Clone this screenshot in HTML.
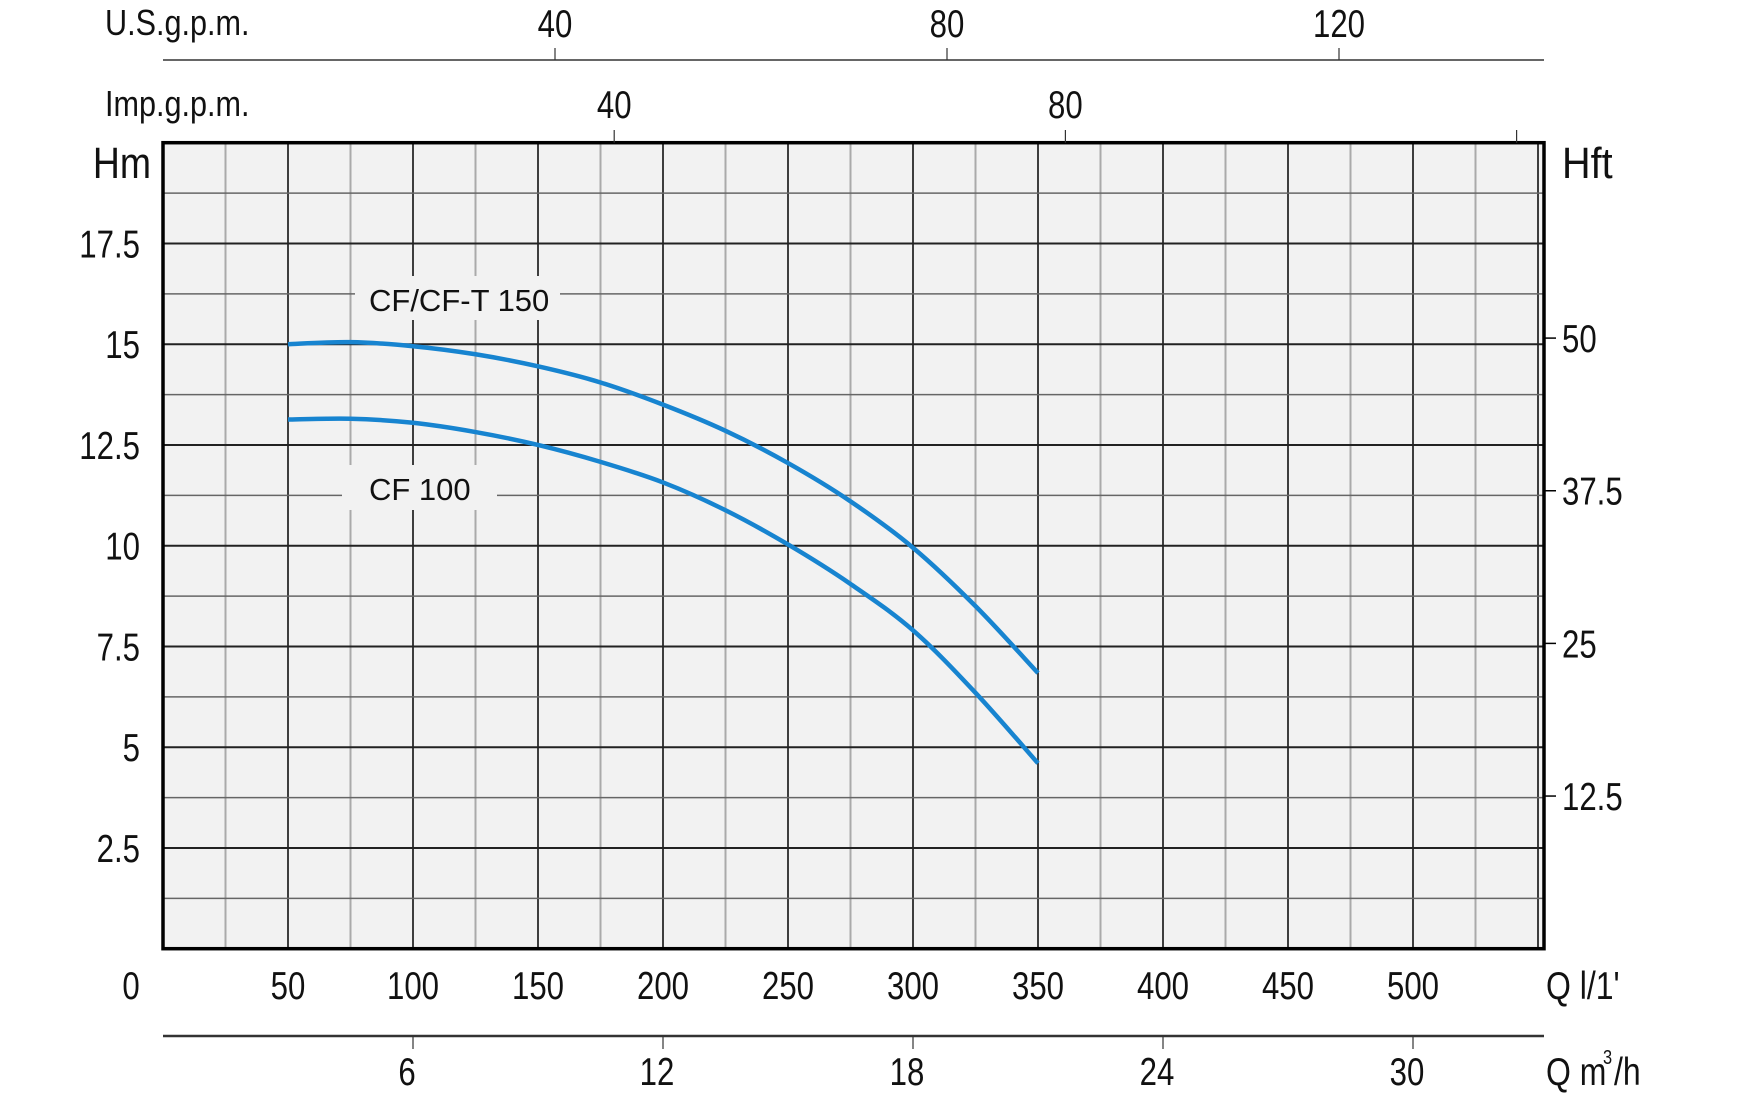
<!DOCTYPE html>
<html><head><meta charset="utf-8"><style>
html,body{margin:0;padding:0;background:#fff;}
svg{display:block;}
text{font-family:"Liberation Sans",sans-serif;fill:#111;}
</style></head><body>
<svg id="chart" width="1750" height="1100" viewBox="0 0 1750 1100" xmlns="http://www.w3.org/2000/svg">
<g id="grid"></g>
<g id="axes"></g>
<g id="series"></g>
</svg>
<script>
const flowQ = [50, 75, 100, 125, 150, 175, 200, 225, 250, 275, 300, 325, 350];
const headCF150 = [15.0, 15.05, 14.95, 14.75, 14.45, 14.05, 13.5, 12.85, 12.05, 11.1, 9.95, 8.5, 6.84];
const headCF100 = [13.13, 13.15, 13.05, 12.82, 12.5, 12.08, 11.57, 10.88, 10.03, 9.05, 7.9, 6.35, 4.6];
const hmTicks = [2.5, 5, 7.5, 10, 12.5, 15, 17.5];
const hmTickLabels = ["2.5", "5", "7.5", "10", "12.5", "15", "17.5"];
const hftTicks = [12.5, 25, 37.5, 50];
const hftTickLabels = ["12.5", "25", "37.5", "50"];
const qTicks = [50, 100, 150, 200, 250, 300, 350, 400, 450, 500];
const m3Ticks = [6, 12, 18, 24, 30];
const usTicks = [40, 80, 120];
const impTicks = [40, 80, 120];
const impTickLabels = ["40", "80", ""];

const NS = "http://www.w3.org/2000/svg";
const X0 = 163, XR = 1544, YB = 948.7, YT = 142.7;
const xQ = q => X0 + q * 2.5;
const yM = m => YB - m * 40.3;
const yFt = f => yM(f / 3.3);
const xUS = g => 163 + g * 9.8;
const xImp = g => 163 + g * 11.28;
const xM3 = v => xQ(v * 1000 / 60);

function mk(tag, attrs, parent) {
  const e = document.createElementNS(NS, tag);
  for (const k in attrs) e.setAttribute(k, attrs[k]);
  parent.appendChild(e);
  return e;
}
const grid = document.getElementById('grid');
const axes = document.getElementById('axes');
const series = document.getElementById('series');

const bg = mk('rect', {x: X0, y: YT, width: XR - X0, height: YB - YT, fill: '#f2f2f2'}, grid);



for (let q = 25; q < 552; q += 25) {
  const major = q % 50 === 0;
  const l = mk('line', {x1: xQ(q), x2: xQ(q), y1: YT, y2: YB, stroke: major ? '#111' : '#aaa', 'stroke-width': major ? 1.6 : 2}, grid);
  
  
}
for (let m = 1.25; m < 20; m += 1.25) {
  const major = Math.abs(m / 2.5 - Math.round(m / 2.5)) < 1e-6;
  const l = mk('line', {x1: X0, x2: XR, y1: yM(m), y2: yM(m), stroke: major ? '#222' : '#666', 'stroke-width': major ? 2 : 1.5}, grid);
  
  
}

function seriesLabel(txt, x, base, bx, by, bw, bh, name) {
  const r = mk('rect', {x: bx, y: by, width: bw, height: bh, fill: '#f2f2f2'}, grid);
  
  
  const t = mk('text', {x: x, y: base, 'font-size': 31}, grid);
  t.textContent = txt;
  
  
}
seriesLabel('CF/CF-T 150', 369, 311, 355, 276, 205, 44, 'label-cf150');
seriesLabel('CF 100', 369, 500, 342, 465, 155, 45, 'label-cf100');

const border = mk('rect', {x: X0, y: YT, width: XR - X0, height: YB - YT, fill: 'none', stroke: '#000', 'stroke-width': 3.5}, axes);



function label(txt, x, y, anchor, size, sx, name) {
  const t = mk('text', {x: 0, y: 0, 'font-size': size, 'text-anchor': anchor, transform: `translate(${x},${y}) scale(${sx},1)`}, axes);
  t.textContent = txt;
  
  
  return t;
}

label('Hm', 151, 178, 'end', 44, 0.85, 'y-axis-title-hm');
hmTicks.forEach((v, i) => label(hmTickLabels[i], 140, yM(v) + 14, 'end', 39, 0.8, 'hm-tick-label'));

label('Hft', 1562, 178, 'start', 44, 0.9, 'y-axis-title-hft');
hftTicks.forEach((v, i) => {
  const l = mk('line', {x1: XR, x2: XR + 12, y1: yFt(v), y2: yFt(v), stroke: '#000', 'stroke-width': 1.5}, axes);
  
  
  label(hftTickLabels[i], 1562, yFt(v) + 14, 'start', 39, 0.8, 'hft-tick-label');
});

label('0', 131, 999, 'middle', 39, 0.8, 'q-tick-label');
qTicks.forEach(v => label(String(v), xQ(v), 999, 'middle', 39, 0.8, 'q-tick-label'));
label("Q l/1'", 1546, 999, 'start', 39, 0.82, 'x-axis-title-lmin');

const m3Line = mk('line', {x1: X0, x2: XR, y1: 1036, y2: 1036, stroke: '#333', 'stroke-width': 2.5}, axes);


m3Ticks.forEach(v => {
  const l = mk('line', {x1: xM3(v), x2: xM3(v), y1: 1036, y2: 1049, stroke: '#333', 'stroke-width': 1.2}, axes);
  
  
  label(String(v), xM3(v) - 6, 1085, 'middle', 39, 0.8, 'm3h-tick-label');
});
label('Q m', 1546, 1085, 'start', 39, 0.82, 'x-axis-title-m3h');
label('3', 1603, 1064, 'start', 20, 0.82, 'x-axis-title-sup');
label('/h', 1614, 1085, 'start', 39, 0.82, 'x-axis-title-h');

const usLine = mk('line', {x1: X0, x2: XR, y1: 60, y2: 60, stroke: '#333', 'stroke-width': 1.5}, axes);


label('U.S.g.p.m.', 105, 35, 'start', 36, 0.85, 'usgpm-title');
usTicks.forEach(v => {
  const l = mk('line', {x1: xUS(v), x2: xUS(v), y1: 48, y2: 60, stroke: '#333', 'stroke-width': 1.2}, axes);
  
  
  label(String(v), xUS(v), 37, 'middle', 39, 0.8, 'usgpm-tick-label');
});

label('Imp.g.p.m.', 105, 116, 'start', 36, 0.85, 'impgpm-title');
impTicks.forEach((v, i) => {
  const l = mk('line', {x1: xImp(v), x2: xImp(v), y1: 130, y2: YT, stroke: '#333', 'stroke-width': 1.2}, axes);
  
  
  if (impTickLabels[i]) label(impTickLabels[i], xImp(v), 118, 'middle', 39, 0.8, 'impgpm-tick-label');
});

function curve(vals, name) {
  const pts = flowQ.map((q, i) => [xQ(q), yM(vals[i])]);
  let d = 'M' + pts[0][0] + ',' + pts[0][1];
  for (let i = 0; i < pts.length - 1; i++) {
    const p0 = pts[i - 1] || pts[i], p1 = pts[i], p2 = pts[i + 1], p3 = pts[i + 2] || p2;
    const c1x = p1[0] + (p2[0] - p0[0]) / 6, c1y = p1[1] + (p2[1] - p0[1]) / 6;
    const c2x = p2[0] - (p3[0] - p1[0]) / 6, c2y = p2[1] - (p3[1] - p1[1]) / 6;
    d += ` C${c1x},${c1y} ${c2x},${c2y} ${p2[0]},${p2[1]}`;
  }
  const p = mk('path', {d: d, fill: 'none', stroke: '#1784d0', 'stroke-width': 4.5, 'stroke-linecap': 'butt'}, series);
  
  
}
curve(headCF150, 'curve-cf150');
curve(headCF100, 'curve-cf100');
</script>
</body></html>
